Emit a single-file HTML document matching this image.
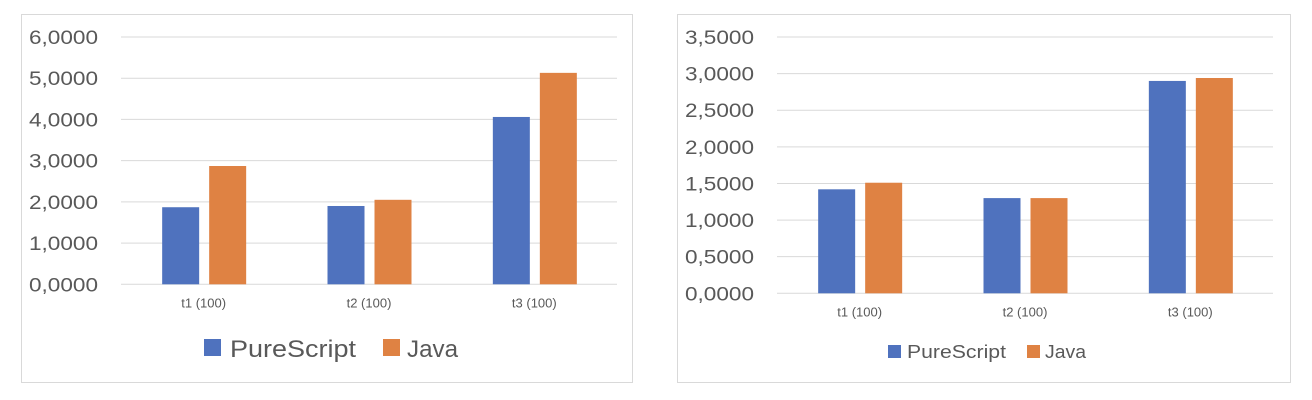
<!DOCTYPE html>
<html><head><meta charset="utf-8"><style>
html,body{margin:0;padding:0;background:#fff;}
svg{display:block;font-family:"Liberation Sans",sans-serif;}
</style></head><body>
<svg id="svg" width="1312" height="400" viewBox="0 0 1312 400"></svg>
<script>
const categories = ["t1 (100)", "t2 (100)", "t3 (100)"];
const seriesNames = ["PureScript", "Java"];
const chart1PureScript = [1.87, 1.90, 4.06];
const chart1Java = [2.87, 2.05, 5.13];
const chart1Ticks = ["0,0000","1,0000","2,0000","3,0000","4,0000","5,0000","6,0000"];
const chart2PureScript = [1.42, 1.30, 2.90];
const chart2Java = [1.51, 1.30, 2.94];
const chart2Ticks = ["0,0000","0,5000","1,0000","1,5000","2,0000","2,5000","3,0000","3,5000"];
const colors = ["#4f72be", "#df8243"];
const NS = "http://www.w3.org/2000/svg";
const svg = document.getElementById("svg");
function mk(tag, attrs, parent){const e=document.createElementNS(NS,tag);for(const k in attrs)e.setAttribute(k,attrs[k]);(parent||svg).appendChild(e);return e;}

function drawChart(cfg){
  const g = mk("g",{});
  
  
  const frame = mk("rect",{x:cfg.fx+0.5,y:14.5,width:cfg.fw,height:368,fill:"#fff",stroke:"#d9d9d9"},g);
  
  
  const maxV = cfg.ticks.length-1;
  const step = cfg.step;
  const yTop=37, yBot=cfg.y0;
  const y = v => yBot - (v/(maxV*step))*(yBot-yTop);
  const x0=cfg.px0, x1=cfg.px1, cw=(x1-x0)/categories.length;
  const xc = i => x0 + cw*(i+0.5);
  cfg.ticks.forEach((t,i)=>{
    const yy = y(i*step);
    const l = mk("line",{x1:x0,x2:x1,y1:yy,y2:yy,stroke:"#d9d9d9","stroke-width":1},g);
    
    
    const tx = mk("text",{x:x0-23,y:yy+7,"text-anchor":"end","font-size":19,fill:"#595959",textLength:69,lengthAdjust:"spacingAndGlyphs"},g);
    tx.textContent=t;
    
    
  });
  const series=[cfg.s1,cfg.s2];
  series.forEach((vals,si)=>{
    vals.forEach((v,i)=>{
      const bx = xc(i) + (si===0 ? -41.5 : 5.5);
      const r = mk("rect",{x:bx,y:y(v),width:37,height:yBot-y(v),fill:colors[si]},g);
      
      
    });
  });
  categories.forEach((c,i)=>{
    const tx = mk("text",{x:xc(i),y:yBot+23,"text-anchor":"middle","font-size":13,fill:"#595959"},g);
    tx.textContent=c;
    
    
  });
  cfg.legend.forEach((lg,si)=>{
    const sw = mk("rect",{x:lg.sx,y:lg.sy,width:lg.ss,height:lg.ss,fill:colors[si]},g);
    
    
    const tx = mk("text",{x:lg.tx,y:lg.ty,"font-size":lg.fs,fill:"#595959",textLength:lg.tl,lengthAdjust:"spacingAndGlyphs"},g);
    tx.textContent=seriesNames[si];
    
    
  });
}
drawChart({name:"chart-1",fx:21,fw:611,ticks:chart1Ticks,step:1,y0:284.3,px0:121,px1:617,s1:chart1PureScript,s2:chart1Java,
  legend:[{sx:204,sy:339,ss:17,tx:230,ty:357,fs:24,tl:126},{sx:383,sy:339,ss:17,tx:407,ty:357,fs:24,tl:51}]});
drawChart({name:"chart-2",fx:677,fw:613,ticks:chart2Ticks,step:0.5,y0:293.3,px0:777,px1:1273,s1:chart2PureScript,s2:chart2Java,
  legend:[{sx:888,sy:345,ss:13,tx:907,ty:358,fs:18,tl:99},{sx:1027,sy:345,ss:13,tx:1045,ty:358,fs:18,tl:41}]});
</script>
</body></html>
